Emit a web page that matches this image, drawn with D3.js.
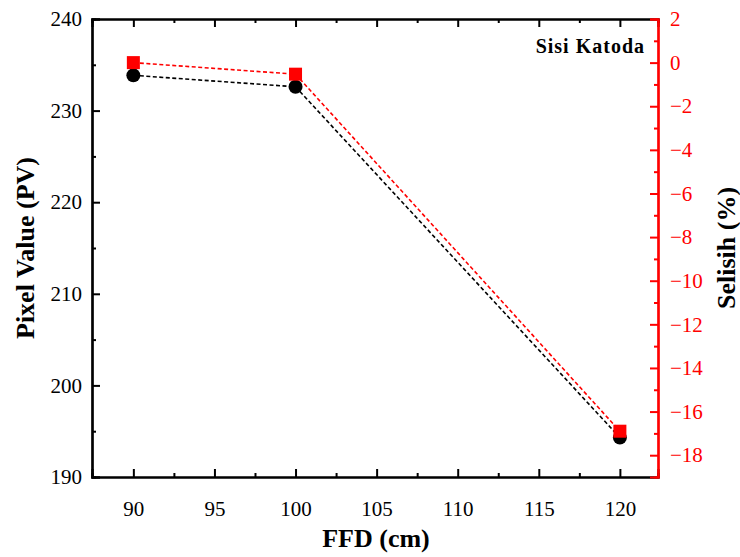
<!DOCTYPE html>
<html>
<head>
<meta charset="utf-8">
<script src="https://cdn.jsdelivr.net/npm/d3@7"></script>
<style>
  body { margin: 0; background: #fff; }
  text { font-family: "Liberation Serif", "DejaVu Serif", serif; }
</style>
</head>
<body>
<script>
var w = 740, h = 557;
var margin = { top: 19, right: 82, bottom: 80, left: 92 };

// data
var ffd = [90, 100, 120];
var pixelValue = [233.85, 232.6, 194.3];
var selisih = [0, -0.53, -16.9];

var xTicks = [90, 95, 100, 105, 110, 115, 120];
var yTicks = [190, 200, 210, 220, 230, 240];
var y2Ticks = [2, 0, -2, -4, -6, -8, -10, -12, -14, -16, -18];

var iw = w - margin.left - margin.right,
    ih = h - margin.top - margin.bottom;

var x = d3.scaleLinear().domain([87.45, 122.35]).range([0, iw]);
var y = d3.scaleLinear().domain([190, 240]).range([ih, 0]);
var y2 = d3.scaleLinear().domain([-19, 2]).range([ih, 0]);

var svg = d3.select('body').append('svg')
    .attr('width', w)
    .attr('height', h);

var g = svg.append('g')
    .attr('transform', 'translate(' + margin.left + ',' + margin.top + ')');

function minorOf(ticks) {
    var out = [];
    for (var i = 0; i < ticks.length - 1; i++) out.push((ticks[i] + ticks[i + 1]) / 2);
    return out;
}

// bottom axis (ticks inward)
var xMinor = minorOf(xTicks);
g.append('g').attr('transform', 'translate(0,' + ih + ')')
    .call(d3.axisBottom(x).tickValues(xMinor).tickSize(-4).tickFormat(''));
g.append('g').attr('transform', 'translate(0,' + ih + ')')
    .call(d3.axisBottom(x).tickValues(xTicks).tickSize(-8).tickPadding(24).tickFormat(d3.format('d')));
// top mirror
g.append('g').call(d3.axisTop(x).tickValues(xMinor).tickSize(-4).tickFormat(''));
g.append('g').call(d3.axisTop(x).tickValues(xTicks).tickSize(-8).tickFormat(''));

// left axis
var yMinor = minorOf(yTicks);
g.append('g').call(d3.axisLeft(y).tickValues(yMinor).tickSize(-4).tickFormat(''));
g.append('g').call(d3.axisLeft(y).tickValues(yTicks).tickSize(-8).tickPadding(10).tickFormat(d3.format('d')));

// right axis (red)
var y2Minor = minorOf(y2Ticks);
var r1 = g.append('g').attr('transform', 'translate(' + iw + ',0)')
    .call(d3.axisRight(y2).tickValues(y2Minor).tickSize(-4).tickFormat(''));
var r2 = g.append('g').attr('transform', 'translate(' + iw + ',0)')
    .call(d3.axisRight(y2).tickValues(y2Ticks).tickSize(-8).tickPadding(12)
        .tickFormat(function(d) { return d < 0 ? '\u2212' + Math.abs(d) : d; }));

g.selectAll('.domain').attr('stroke', '#000').attr('stroke-width', 2.2);
g.selectAll('.tick line').attr('stroke', '#000').attr('stroke-width', 2);
g.selectAll('.tick text').attr('fill', '#000').style('font-size', '21px')
    .style('font-family', '"Liberation Serif", serif');
r1.selectAll('.domain, .tick line').attr('stroke', '#ff0000');
r2.selectAll('.domain, .tick line').attr('stroke', '#ff0000');
r2.selectAll('.tick text').attr('fill', '#ff0000');

// lines
var pts = ffd.map(function(d, i) { return { x: d, pv: pixelValue[i], s: selisih[i] }; });

g.append('path').datum(pts)
    .attr('fill', 'none').attr('stroke', '#000').attr('stroke-width', 1.6)
    .attr('stroke-dasharray', '4,2.5')
    .attr('d', d3.line().x(d => x(d.x)).y(d => y(d.pv)));

g.append('path').datum(pts)
    .attr('fill', 'none').attr('stroke', '#ff0000').attr('stroke-width', 1.6)
    .attr('stroke-dasharray', '4,2.5')
    .attr('d', d3.line().x(d => x(d.x)).y(d => y2(d.s)));

g.selectAll('circle.pv').data(pts).enter()
    .append('circle')
    .attr('class', 'pv')
    .attr('cx', d => x(d.x))
    .attr('cy', d => y(d.pv))
    .attr('r', 7)
    .attr('fill', '#000');

g.selectAll('rect.sel').data(pts).enter()
    .append('rect')
    .attr('class', 'sel')
    .attr('x', d => x(d.x) - 6.5)
    .attr('y', d => y2(d.s) - 6.5)
    .attr('width', 13)
    .attr('height', 13)
    .attr('fill', '#ff0000');

// labels
svg.append('text')
    .attr('x', 376)
    .attr('y', 547)
    .attr('text-anchor', 'middle')
    .style('font-size', '26px').style('font-weight', 'bold')
    .text('FFD (cm)');

svg.append('text')
    .attr('transform', 'translate(34,' + 248 + ') rotate(-90)')
    .attr('text-anchor', 'middle')
    .style('font-size', '26px').style('font-weight', 'bold')
    .text('Pixel Value (PV)');

svg.append('text')
    .attr('transform', 'translate(735,' + 248 + ') rotate(-90)')
    .attr('text-anchor', 'middle')
    .style('font-size', '26px').style('font-weight', 'bold')
    .text('Selisih (%)');

svg.append('text')
    .attr('x', 645)
    .attr('y', 53)
    .attr('text-anchor', 'end')
    .style('font-size', '20px').style('font-weight', 'bold')
    .style('letter-spacing', '1px')
    .text('Sisi Katoda');
</script>
</body>
</html>
